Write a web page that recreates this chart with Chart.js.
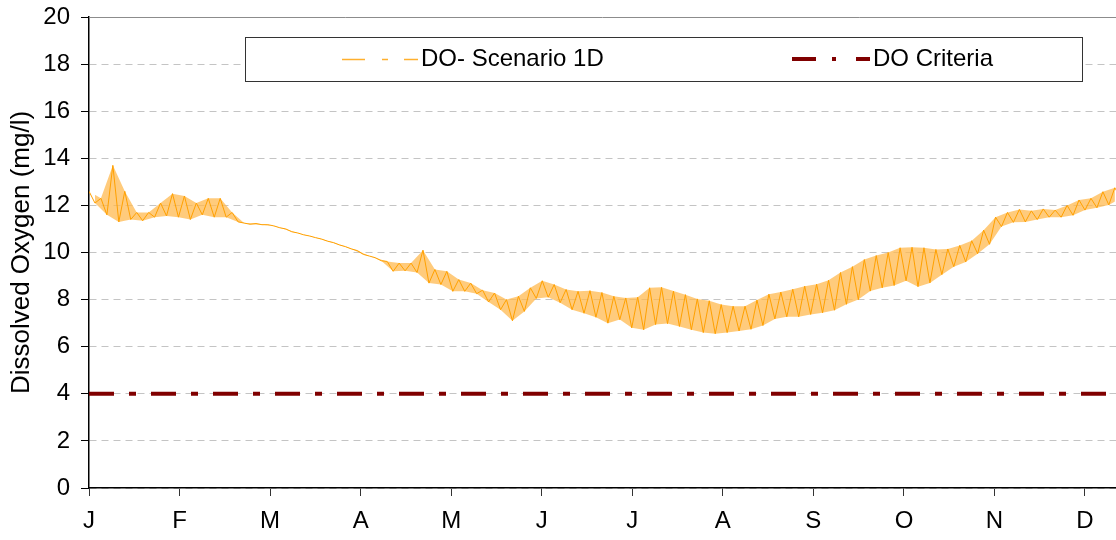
<!DOCTYPE html>
<html>
<head>
<meta charset="utf-8">
<script src="https://cdn.jsdelivr.net/npm/chart.js@4.4.1/dist/chart.umd.min.js"></script>
<style>
  html, body { margin: 0; padding: 0; background: #fff; }
</style>
</head>
<body>
<canvas id="do-chart" width="1116" height="540"></canvas>
<script>
// month tick positions (day of year, evenly spaced like the original axis) and labels
const monthDays = [0, 30.4, 60.7, 91.1, 121.5, 151.8, 182.2, 212.5, 242.9, 273.3, 303.6, 334];
const monthLabels = ["J", "F", "M", "A", "M", "J", "J", "A", "S", "O", "N", "D"];

// DO- Scenario 1D: daily high / low every 4 days
const sampleStep = 4;
const doHigh = [
  12.6, 12.3, 13.7, 12.6, 11.7, 11.7, 12.1, 12.5, 12.4, 12.1,
  12.3, 12.3, 11.7, 11.25, 11.23, 11.18, 11.05, 10.88, 10.75, 10.63,
  10.48, 10.32, 10.15, 9.92, 9.78, 9.62, 9.55, 9.55, 10.1, 9.28,
  9.2, 8.85, 8.7, 8.4, 8.28, 8.0, 8.14, 8.5, 8.8, 8.64,
  8.43, 8.35, 8.38, 8.3, 8.14, 8.07, 8.1, 8.5, 8.52, 8.36,
  8.21, 8.03, 7.95, 7.79, 7.72, 7.72, 7.98, 8.23, 8.32, 8.44,
  8.57, 8.65, 8.82, 9.15, 9.4, 9.7, 9.87, 10.0, 10.2, 10.22,
  10.2, 10.13, 10.15, 10.3, 10.5, 10.95, 11.5, 11.7, 11.83, 11.77,
  11.85, 11.8, 12.0, 12.23, 12.3, 12.58, 12.75
];
const doLow = [
  12.1, 11.6, 11.3, 11.4, 11.35, 11.5, 11.55, 11.5, 11.4, 11.6,
  11.5, 11.5, 11.3, 11.2, 11.18, 11.13, 11.0, 10.83, 10.7, 10.57,
  10.42, 10.25, 10.08, 9.85, 9.65, 9.2, 9.22, 9.15, 8.7, 8.64,
  8.35, 8.35, 8.25, 7.9, 7.57, 7.1, 7.5, 8.05, 8.1, 7.87,
  7.57, 7.42, 7.25, 7.0, 7.15, 6.8, 6.72, 6.94, 6.98, 6.86,
  6.72, 6.6, 6.55, 6.6, 6.67, 6.74, 6.9, 7.18, 7.27, 7.27,
  7.37, 7.44, 7.55, 7.8, 8.0, 8.36, 8.5, 8.6, 8.8, 8.55,
  8.71, 9.06, 9.4, 9.6, 9.95, 10.35, 11.1, 11.28, 11.3, 11.4,
  11.5, 11.5, 11.58, 11.8, 11.9, 12.02, 12.3
];

// DO Criteria
const criteriaDays = [0, 344.4];
const criteriaValues = [4, 4];

const xMax = 344.4;

const highPts = doHigh.map((v, i) => ({ x: i * sampleStep, y: v }));
const lowPts = doLow.map((v, i) => ({ x: i * sampleStep + sampleStep / 2, y: v }));
// hi / lo alternate, like the daily swings
const zigzag = [];
doHigh.forEach((v, i) => {
  zigzag.push(highPts[i]);
  zigzag.push(lowPts[i]);
});
const criteriaPts = criteriaDays.map((d, i) => ({ x: d, y: criteriaValues[i] }));

Chart.defaults.font.family = '"Liberation Sans", Arial, sans-serif';
Chart.defaults.font.size = 24;
Chart.defaults.color = "#000";

// gray top edge of the plot
const topEdge = {
  id: "topEdge",
  beforeDatasetsDraw(chart) {
    const { ctx, chartArea } = chart;
    ctx.save();
    ctx.strokeStyle = "#8c8c8c";
    ctx.lineWidth = 1;
    ctx.beginPath();
    ctx.moveTo(chartArea.left, chartArea.top + 0.5);
    ctx.lineTo(chartArea.right, chartArea.top + 0.5);
    ctx.stroke();
    ctx.restore();
  },
};

// boxed legend like the original
const legendBox = {
  id: "legendBox",
  afterDraw(chart) {
    const ctx = chart.ctx;
    ctx.save();
    ctx.fillStyle = "#fff";
    ctx.fillRect(245.5, 37.5, 837, 44);
    ctx.strokeStyle = "#333";
    ctx.lineWidth = 1;
    ctx.strokeRect(245.5, 37.5, 837, 44);

    ctx.lineCap = "butt";
    ctx.strokeStyle = "#FFB02E";
    ctx.lineWidth = 1.5;
    ctx.setLineDash([23, 17, 6, 16, 14, 0]);
    ctx.beginPath();
    ctx.moveTo(342, 59.5);
    ctx.lineTo(418, 59.5);
    ctx.stroke();

    ctx.strokeStyle = "#800000";
    ctx.lineWidth = 4;
    ctx.setLineDash([24, 16, 4, 20, 16, 0]);
    ctx.beginPath();
    ctx.moveTo(792, 59);
    ctx.lineTo(870, 59);
    ctx.stroke();

    ctx.setLineDash([]);
    ctx.fillStyle = "#000";
    ctx.font = '24px "Liberation Sans", Arial, sans-serif';
    ctx.textBaseline = "middle";
    ctx.fillText("DO- Scenario 1D", 421, 59);
    ctx.fillText("DO Criteria", 873, 59);
    ctx.restore();
  },
};

const ctx = document.getElementById("do-chart").getContext("2d");
new Chart(ctx, {
  type: "line",
  data: {
    datasets: [
      {
        label: "band high",
        data: highPts,
        borderWidth: 0,
        pointRadius: 0,
        fill: false,
        order: 3,
      },
      {
        label: "band low",
        data: lowPts,
        borderWidth: 0,
        pointRadius: 0,
        fill: "-1",
        backgroundColor: "rgba(255, 185, 80, 0.75)",
        order: 2,
      },
      {
        label: "DO- Scenario 1D",
        data: zigzag,
        borderColor: "#FFA000",
        borderWidth: 1,
        pointRadius: 0,
        tension: 0,
        order: 1,
      },
      {
        label: "DO Criteria",
        data: criteriaPts,
        borderColor: "#800000",
        borderWidth: 4,
        borderDash: [25, 15, 7, 15],
        borderCapStyle: "butt",
        pointRadius: 0,
        order: 0,
      },
    ],
  },
  options: {
    responsive: false,
    animation: false,
    layout: { padding: { top: 17, right: 0, bottom: 0, left: 0 } },
    plugins: {
      legend: { display: false },
      tooltip: { enabled: false },
    },
    scales: {
      x: {
        type: "linear",
        min: 0,
        max: xMax,
        afterBuildTicks: (scale) => {
          scale.ticks = monthDays.map((d) => ({ value: d }));
        },
        afterFit: (scale) => {
          scale.height = 52;
          scale.paddingLeft = 0;
          scale.paddingRight = 0;
        },
        ticks: {
          autoSkip: false,
          maxRotation: 0,
          padding: 11,
          callback: (value, index) => monthLabels[index],
        },
        grid: {
          drawOnChartArea: false,
          drawTicks: true,
          tickLength: 8,
          tickColor: "#333",
          tickWidth: 1,
        },
        border: { color: "#000", width: 1.5 },
      },
      y: {
        min: 0,
        max: 20,
        afterFit: (scale) => {
          scale.width = 89;
          scale.paddingTop = 0;
          scale.paddingBottom = 0;
        },
        ticks: { stepSize: 2, padding: 11 },
        title: {
          display: true,
          text: "Dissolved Oxygen (mg/l)",
          font: { size: 26 },
          padding: { top: 6, bottom: 0 },
        },
        grid: {
          color: (c) => (c.tick && c.tick.value === 20 ? "rgba(0,0,0,0)" : "#c4c4c4"),
          lineWidth: 1,
          tickLength: 8,
          tickColor: "#000",
          tickWidth: 1,
        },
        border: { color: "#000", width: 1.5, dash: [7, 5] },
      },
    },
  },
  plugins: [topEdge, legendBox],
});
</script>
</body>
</html>
